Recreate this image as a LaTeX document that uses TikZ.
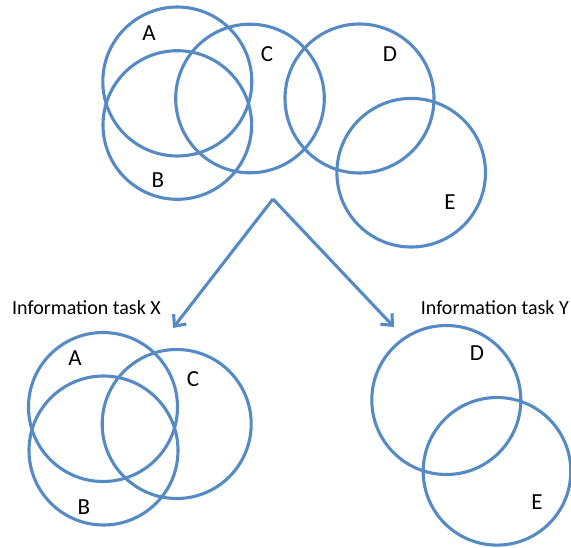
\documentclass[tikz,border=0pt]{standalone}
\usepackage{fontspec}
\setmainfont{Carlito}
\usetikzlibrary{arrows.meta}
\definecolor{vblue}{RGB}{86,138,196}
\begin{document}
\begin{tikzpicture}[x=1pt,y=-1pt,
  ring/.style={draw=vblue,line width=3.1pt},
  lbl/.style={font=\fontsize{23}{23}\selectfont,inner sep=0pt},
  task/.style={font=\fontsize{20}{20}\selectfont,inner sep=0pt},
  conn/.style={draw=vblue,line width=3.1pt,-{Straight Barb[length=9pt,width=16pt]}}]
\useasboundingbox (0,0) rectangle (571,547);
% top group
\draw[ring] (177.3,81.5) circle (74.5);
\draw[ring] (177.3,125) circle (74.3);
\draw[ring] (250,98.5) circle (74.3);
\draw[ring] (359.5,98.5) circle (74.5);
\draw[ring] (411.2,172.7) circle (74.3);
\node[lbl] (tA) at (149,33) {A};
\node[lbl] (tB) at (158,180) {B};
\node[lbl] (tC) at (267,54) {C};
\node[lbl] (tD) at (390,54) {D};
\node[lbl] (tE) at (450,202) {E};
% arrows
\coordinate (apex) at (273,199);
\coordinate (tipX) at (173,328);
\coordinate (tipY) at (394,327);
\draw[conn] (apex) -- (tipX);
\draw[conn] (apex) -- (tipY);
% task labels
\node[task,anchor=west] (lX) at (12,308) {Information task X};
\node[task,anchor=east] (lY) at (569,308) {Information task Y};
% bottom left group
\draw[ring] (103,407) circle (74.5);
\draw[ring] (103.5,450.5) circle (74.5);
\draw[ring] (176.7,424) circle (74.5);
\node[lbl] (bA) at (75,358) {A};
\node[lbl] (bC) at (193,379) {C};
\node[lbl] (bB) at (84,507) {B};
% bottom right group
\draw[ring] (446.3,400) circle (74.5);
\draw[ring] (497,471.3) circle (73.8);
\node[lbl] (bD) at (477,353) {D};
\node[lbl] (bE) at (537,502) {E};
\end{tikzpicture}
\end{document}
